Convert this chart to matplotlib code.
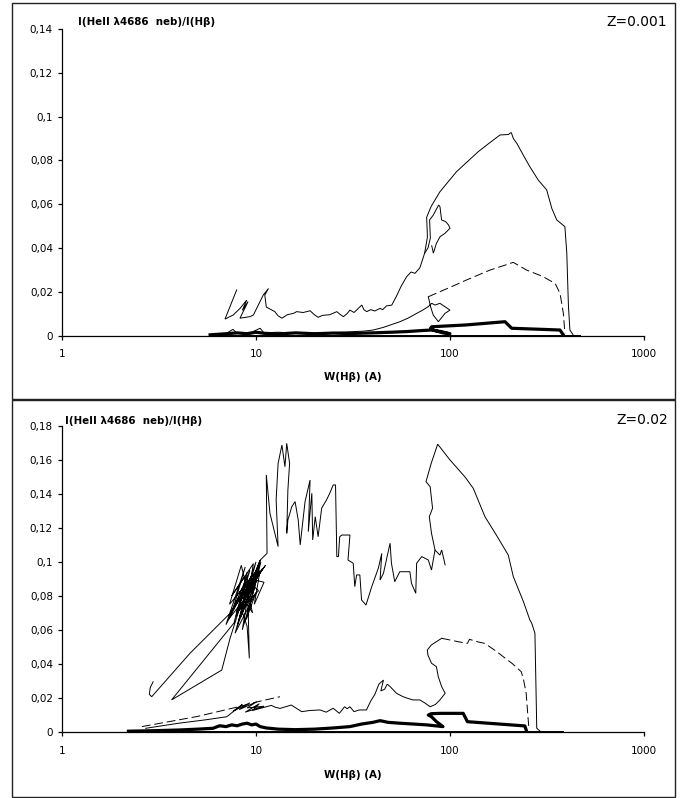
import matplotlib
matplotlib.use("Agg")
import matplotlib.pyplot as plt
from matplotlib.patches import Rectangle
from matplotlib.ticker import FuncFormatter, FixedLocator, NullLocator

plt.rcParams["font.family"] = ["DejaVu Sans"]

# ---- panel 1 (Z=0.001) ----
p1_inner_x = [7.95, 6.92, 7.64, 8.3, 8.96, 8.5, 9.1, 8.27, 9.31, 9.7, 10.9, 11.6, 11.1, 11.3,
              12.5, 13.0, 13.6, 14.5, 15.6, 16.2, 17.5, 19.0, 20.0, 20.9, 22.0, 24.0, 26.1,
              27.0, 28.2, 29.5, 30.5, 32.0, 33.5, 35.1, 36.0, 37.2, 39.0, 41.0, 43.6, 45.0,
              47.0, 50.1, 53.0, 56.0, 59.8, 63.0, 66.0, 70.0, 74.0, 77.0, 79.2, 78.5, 82.0,
              87.4, 88.8, 90.5, 95.0, 98.2, 100.0, 94.3, 88.8, 85.0, 82.1, 80.5]
p1_inner_y = [0.0208, 0.0075, 0.0094, 0.0125, 0.0162, 0.0115, 0.0155, 0.0079, 0.0086, 0.0094,
              0.0185, 0.0215, 0.0185, 0.013, 0.0109, 0.009, 0.0079, 0.0095, 0.0101, 0.0109,
              0.0105, 0.0113, 0.0095, 0.0083, 0.0092, 0.0095, 0.0109, 0.0098, 0.0086, 0.010,
              0.0116, 0.0105, 0.0122, 0.0139, 0.0118, 0.0109, 0.0118, 0.0112, 0.0124, 0.0118,
              0.0135, 0.0139, 0.018, 0.0225, 0.0269, 0.029, 0.0284, 0.031, 0.0376, 0.040,
              0.0445, 0.0528, 0.055, 0.0596, 0.0588, 0.0528, 0.052, 0.0505, 0.049, 0.0467,
              0.0451, 0.042, 0.0376, 0.041]

p1_outer_x = [74.0, 76.5, 75.8, 80.0, 88.8, 108, 125, 140, 160, 181, 200, 204, 207, 212, 221,
              240, 258, 285, 315, 335, 355, 391, 400, 404, 408, 415, 432]
p1_outer_y = [0.0376, 0.045, 0.054, 0.059, 0.0657, 0.0748, 0.080, 0.084, 0.088, 0.0916, 0.0918,
              0.0924, 0.0927, 0.090, 0.0878, 0.082, 0.0771, 0.071, 0.0665, 0.058, 0.0528,
              0.0497, 0.0376, 0.025, 0.0132, 0.0025, 0.0002]

p1_low_x = [6.0, 7.0, 7.6, 8.0, 9.5, 10.5, 11.0, 13, 16, 20, 25, 30.5, 36, 40.2, 45.3, 50,
            55.2, 61, 67.3, 72, 77.3, 80.5, 83.7, 88.7, 100, 94.2, 87.1, 81.9, 79.4, 77.3]
p1_low_y = [0.0003, 0.0008, 0.0028, 0.001, 0.0015, 0.0033, 0.0012, 0.0015, 0.001, 0.0012,
            0.0014, 0.0017, 0.002, 0.0025, 0.0037, 0.005, 0.0063, 0.008, 0.0101, 0.0115,
            0.0132, 0.0147, 0.0139, 0.0147, 0.0116, 0.0101, 0.0063, 0.0094, 0.0132, 0.0177]

p1_dash_x = [77.3, 100, 122, 161, 190, 212, 248, 300, 348, 369, 384, 391]
p1_dash_y = [0.0177, 0.022, 0.0254, 0.0299, 0.032, 0.0334, 0.0299, 0.027, 0.0238, 0.0193,
             0.0101, 0.001]

p1_thick_x = [5.8, 7, 8, 9, 10, 11, 13, 16, 20, 25, 30, 40, 50, 60, 70, 80, 90, 100, 92, 82,
              79.4, 80.5, 120, 192, 208, 300, 369, 384]
p1_thick_y = [0.0003, 0.0008, 0.0012, 0.0008, 0.0015, 0.001, 0.0007, 0.0012, 0.0008, 0.0011,
              0.0009, 0.0012, 0.0015, 0.0018, 0.0022, 0.0025, 0.0018, 0.0008, 0.0012, 0.0025,
              0.0033, 0.004, 0.0048, 0.0063, 0.0033, 0.0028, 0.0025, 0.0002]

p1_base_x = [5.8, 470]
p1_base_y = [0.0002, 0.0002]

# ---- panel 2 (Z=0.02) ----
p2_main_x = [2.95, 2.85, 2.82, 2.9, 4.57, 7.35,
             9.5, 7.0, 8.8, 7.6, 10.2, 8.0, 9.1, 7.3, 8.4, 9.6, 8.2, 10.4, 7.9, 9.3, 7.2,
             9.9, 8.5, 9.7, 7.5, 8.7, 10.3, 8.1, 9.0, 7.7,
             3.67, 6.66, 7.35, 8.3, 9.0, 9.24, 9.1,
             10.6, 8.9, 10.0, 7.8, 9.4, 11.0, 9.8, 10.5, 8.6, 10.0, 9.2, 10.5, 8.4, 9.6,
             7.9, 10.8, 9.0, 10.1, 8.3, 9.5, 11.2, 10.0, 10.5,
             11.4, 11.3, 11.8, 13.0, 12.7, 13.0, 13.6, 14.1, 14.4, 14.9, 14.6, 14.4, 14.6,
             15.3, 15.9, 16.5, 16.9, 17.9, 19.0, 18.6, 19.4, 19.6, 20.2, 20.9, 21.8, 23.1,
             24.0, 25.0, 25.7, 26.1, 26.6, 27.0, 27.7, 29.4, 30.5, 29.8, 31.7, 32.3, 33.0,
             34.3, 35.0, 36.9, 39.5, 42.7, 44.5, 43.6, 45.4, 49.1, 49.9, 51.9, 55.1, 62.1,
             63.3, 66.6, 67.3, 71.5, 77.3, 80.3, 83.7, 88.7, 90.6, 94.4]
p2_main_y = [0.0294, 0.026, 0.022, 0.0206, 0.0462, 0.0697,
             0.092, 0.063, 0.097, 0.072, 0.094, 0.062, 0.088, 0.075, 0.098, 0.07, 0.082,
             0.097, 0.068, 0.095, 0.066, 0.086, 0.06, 0.099, 0.08, 0.091, 0.083, 0.071,
             0.094, 0.064,
             0.0187, 0.0363, 0.055, 0.074, 0.062, 0.0432, 0.075,
             0.1, 0.066, 0.082, 0.058, 0.09, 0.088, 0.075, 0.095, 0.078, 0.1, 0.085, 0.101,
             0.072, 0.093, 0.07, 0.096, 0.08, 0.089, 0.067, 0.087, 0.098, 0.09, 0.101,
             0.105, 0.1512, 0.1286, 0.109, 0.1365, 0.158, 0.1688, 0.156, 0.1698, 0.158,
             0.1423, 0.1168, 0.1247, 0.1325, 0.1355, 0.1247, 0.11, 0.1355, 0.1482, 0.1178,
             0.1404, 0.1129, 0.1266, 0.1148, 0.1316, 0.1365, 0.1404, 0.1453, 0.1453, 0.1031,
             0.1031, 0.1148, 0.1158, 0.1158, 0.1158, 0.1011, 0.0992, 0.0854, 0.0923, 0.0923,
             0.0776, 0.0746, 0.0854, 0.0962, 0.105, 0.0893, 0.0933, 0.111, 0.0992, 0.0883,
             0.0942, 0.0942, 0.0874, 0.0815, 0.0992, 0.1031, 0.1011, 0.0952, 0.107, 0.104,
             0.107, 0.0982]

p2_outer_x = [83.7, 80.3, 78.2, 81.3, 79.0, 75.2, 80, 86.4, 100, 119.5, 131.8, 151.4, 175,
              199.7, 212, 239, 258, 264, 274, 277, 280, 291]
p2_outer_y = [0.107, 0.1168, 0.1266, 0.1316, 0.1443, 0.1472, 0.158, 0.1693, 0.160, 0.150,
              0.1433, 0.1266, 0.115, 0.104, 0.0913, 0.0766, 0.0658, 0.0638, 0.058, 0.03,
              0.002, 0.0004]

p2_low_x = [2.7, 4.0, 5.5, 7.06, 8.5, 7.6, 9.3, 8.2, 10.1, 9.0, 11.0, 8.8, 10.4, 9.6, 12.0,
            12.5, 13.3, 15.2, 17.2,
            19.0, 21.4, 23.0, 25.0, 26.9, 28.6, 29.5, 30.5, 32.0, 34.0, 37.1, 39.0, 41.0,
            43.0, 45.4, 44.0, 46.0, 47.5, 49.2, 53.0, 57.3, 60.0, 64.5, 69.8, 74.0, 79.0,
            84.0, 88.7, 94.4, 90.6, 87.0, 85.1, 80.3, 77.0, 76.4, 80.0, 85.1, 90.6]
p2_low_y = [0.002, 0.005, 0.007, 0.0088, 0.016, 0.012, 0.017, 0.013, 0.0177, 0.014, 0.015,
            0.0115, 0.0165, 0.0125, 0.0155,
            0.0145, 0.0137, 0.0157, 0.0118, 0.0125, 0.0128, 0.0115, 0.0138, 0.0108, 0.0147,
            0.0135, 0.0147, 0.0118, 0.0128, 0.0128, 0.018, 0.022, 0.028, 0.0304, 0.024,
            0.025, 0.028, 0.0265, 0.0226, 0.0206, 0.0198, 0.0187, 0.0187, 0.017, 0.0147,
            0.016, 0.0187, 0.0226, 0.0265, 0.0324, 0.0383, 0.0403, 0.045, 0.0481, 0.051,
            0.053, 0.055]

p2_dlow_x = [2.58, 5.0, 8.0, 10.5, 13.3]
p2_dlow_y = [0.003, 0.009, 0.0145, 0.018, 0.0206]

p2_dash_x = [90.6, 100, 110, 123, 126, 138, 151, 170, 188, 210, 233, 240, 247, 251, 255]
p2_dash_y = [0.055, 0.054, 0.053, 0.052, 0.0544, 0.053, 0.052, 0.048, 0.0442, 0.040, 0.0353,
             0.03, 0.0226, 0.012, 0.002]

p2_thick_x = [2.2, 3, 4, 5, 6, 6.5, 7, 7.5, 8, 8.5, 9, 9.5, 10, 10.5, 11.3, 13, 16, 20, 25,
              30.5, 35, 40, 43.6, 48, 55, 65, 76, 92, 85, 80.3, 77.3, 80, 88.7, 117, 123,
              180, 243, 247]
p2_thick_y = [0.0003, 0.0006, 0.001, 0.0015, 0.002, 0.0035, 0.003, 0.004, 0.0035, 0.0045,
              0.005, 0.004, 0.0045, 0.003, 0.0022, 0.0015, 0.0012, 0.0015, 0.0022, 0.003,
              0.0045, 0.0055, 0.0065, 0.0055, 0.005, 0.0045, 0.004, 0.003, 0.006, 0.0088,
              0.0098, 0.0106, 0.0108, 0.0108, 0.0059, 0.0045, 0.0034, 0.001]

p2_base_x = [2.2, 384]
p2_base_y = [0.0002, 0.0002]

Y1_TICKS = [0, 0.02, 0.04, 0.06, 0.08, 0.1, 0.12, 0.14]
Y2_TICKS = [0, 0.02, 0.04, 0.06, 0.08, 0.1, 0.12, 0.14, 0.16, 0.18]
X_TICKS = [1, 10, 100, 1000]

W, H = 691, 798
fig = plt.figure(figsize=(W / 100, H / 100), dpi=100, facecolor="white")


def fx(px):
    return px / W


def fy(py):
    return 1 - py / H


def comma(v, _pos):
    return f"{v:g}".replace(".", ",")


def setup(ax, yticks):
    ax.set_xscale("log")
    ax.set_xlim(1, 1000)
    ax.set_ylim(0, yticks[-1])
    ax.xaxis.set_major_locator(FixedLocator(X_TICKS))
    ax.xaxis.set_minor_locator(NullLocator())
    ax.xaxis.set_major_formatter(FuncFormatter(lambda v, p: f"{v:g}"))
    ax.yaxis.set_major_locator(FixedLocator(yticks))
    ax.yaxis.set_major_formatter(FuncFormatter(comma))
    for s in ("top", "right"):
        ax.spines[s].set_visible(False)
    for s in ("left", "bottom"):
        ax.spines[s].set_linewidth(0.9)
    ax.tick_params(direction="out", length=3, width=0.9, labelsize=7.5)
    ax.tick_params(axis="y", pad=3.5)
    ax.tick_params(axis="x", pad=7)
    ax.set_facecolor("none")


thin = dict(color="black", lw=0.7, solid_joinstyle="miter")
dash = dict(color="black", lw=0.7, dashes=(9, 4))
thick = dict(color="black", lw=2.3)

# panel frames
for top, bot in ((3, 399), (400, 797)):
    fig.add_artist(Rectangle((fx(12), fy(bot)), fx(675) - fx(12), fy(top) - fy(bot),
                             fill=False, lw=1.0, edgecolor="#222222",
                             transform=fig.transFigure))

# panel 1
ax1 = fig.add_axes([fx(62), fy(335.5), fx(644) - fx(62), fy(29) - fy(335.5)])
setup(ax1, Y1_TICKS)
ax1.plot(p1_base_x, p1_base_y, **thin)
ax1.plot(p1_thick_x, p1_thick_y, **thick)
ax1.plot(p1_low_x, p1_low_y, **thin)
ax1.plot(p1_dash_x, p1_dash_y, **dash)
ax1.plot(p1_inner_x, p1_inner_y, **thin)
ax1.plot(p1_outer_x, p1_outer_y, **thin)

# panel 2
ax2 = fig.add_axes([fx(62), fy(731.7), fx(644) - fx(62), fy(426) - fy(731.7)])
setup(ax2, Y2_TICKS)
ax2.plot(p2_base_x, p2_base_y, **thin)
ax2.plot(p2_thick_x, p2_thick_y, **thick)
ax2.plot(p2_dlow_x, p2_dlow_y, **dash)
ax2.plot(p2_low_x, p2_low_y, **thin)
ax2.plot(p2_dash_x, p2_dash_y, **dash)
ax2.plot(p2_main_x, p2_main_y, **thin)
ax2.plot(p2_outer_x, p2_outer_y, **thin)

ylab = "I(HeII λ4686  neb)/I(Hβ)"
xlab = "W(Hβ) (A)"
fig.text(fx(78), fy(22), ylab, fontsize=7.4, fontweight="bold", ha="left", va="center")
fig.text(fx(65), fy(421), ylab, fontsize=7.4, fontweight="bold", ha="left", va="center")
fig.text(fx(353), fy(377), xlab, fontsize=7.4, fontweight="bold", ha="center", va="center")
fig.text(fx(353), fy(775), xlab, fontsize=7.4, fontweight="bold", ha="center", va="center")
fig.text(fx(667), fy(22.5), "Z=0.001", fontsize=10, ha="right", va="center")
fig.text(fx(668), fy(420), "Z=0.02", fontsize=10, ha="right", va="center")

fig.savefig("out.png", dpi=100)
